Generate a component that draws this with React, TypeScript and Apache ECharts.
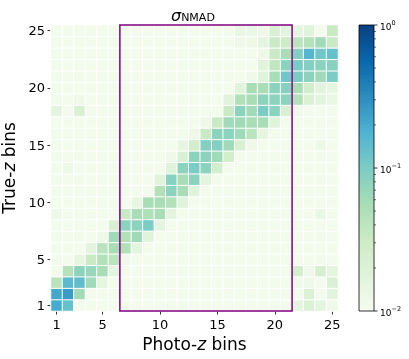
import React, { useEffect, useRef } from "react";
import * as echarts from "echarts";

const photoZBins = ["1","2","3","4","5","6","7","8","9","10","11","12","13","14","15","16","17","18","19","20","21","22","23","24","25"];
const trueZBins = ["1","2","3","4","5","6","7","8","9","10","11","12","13","14","15","16","17","18","19","20","21","22","23","24","25"];
const tickLabels = ["1", "5", "10", "15", "20", "25"];
const B = 0.011;
// rows: true-z bin 1 (bottom) .. 25 (top); columns: photo-z bin 1..25
const sigmaNmad: number[][] = [
  [0.2, 0.13, B, B, B, B, B, B, B, B, B, B, B, B, B, B, B, B, B, B, B, 0.016, 0.021, 0.016, 0.012],
  [0.21, 0.25, 0.06, B, B, B, B, B, B, B, B, B, B, B, B, B, B, B, B, B, B, 0.011, 0.021, 0.011, 0.017],
  [0.042, 0.15, 0.14, 0.062, 0.015, B, B, B, B, B, B, B, B, B, B, B, B, B, B, B, B, 0.012, 0.013, 0.011, 0.021],
  [B, 0.045, 0.08, 0.07, 0.056, 0.016, B, B, B, B, B, B, B, B, B, B, B, B, B, B, B, 0.026, 0.012, 0.024, 0.016],
  [B, B, 0.015, 0.033, 0.048, 0.042, 0.012, B, B, B, B, B, B, B, B, B, B, B, B, B, B, B, B, B, B],
  [B, B, B, 0.016, 0.042, 0.056, 0.048, 0.016, B, B, B, B, B, B, B, B, B, B, B, B, B, B, B, B, B],
  [B, B, B, B, 0.013, 0.062, 0.048, 0.062, 0.018, B, B, B, B, B, B, B, B, B, B, B, B, B, B, B, B],
  [B, B, B, B, B, 0.022, 0.08, 0.08, 0.1, 0.016, B, B, B, B, B, B, B, B, B, B, B, B, B, B, B],
  [0.012, B, B, B, B, B, 0.033, 0.056, 0.05, 0.056, 0.016, B, B, B, B, B, B, B, B, B, B, B, B, 0.014, B],
  [B, B, B, B, B, B, B, 0.015, 0.056, 0.056, 0.048, 0.018, B, B, B, B, B, B, B, B, B, B, B, B, B],
  [B, B, B, B, B, B, B, B, B, 0.048, 0.08, 0.056, 0.018, B, B, B, B, B, B, B, B, B, B, B, B],
  [B, B, B, B, B, B, B, B, B, 0.018, 0.085, 0.056, 0.08, 0.016, B, B, B, B, B, B, B, B, B, B, B],
  [B, 0.013, B, B, B, B, B, B, B, B, 0.018, 0.08, 0.1, 0.08, 0.026, B, B, B, B, B, B, B, B, B, B],
  [B, B, B, B, B, B, B, B, B, B, 0.012, 0.022, 0.08, 0.08, 0.062, 0.026, B, B, B, B, B, B, B, B, B],
  [B, B, B, B, B, B, B, B, B, B, B, 0.015, 0.026, 0.09, 0.09, 0.062, 0.022, 0.012, B, B, B, B, B, 0.013, B],
  [B, B, B, B, B, B, B, B, B, B, B, B, 0.013, 0.033, 0.08, 0.08, 0.062, 0.042, 0.015, B, B, B, B, B, B],
  [B, B, B, B, B, B, B, B, B, B, B, B, B, 0.013, 0.033, 0.062, 0.062, 0.056, 0.056, 0.018, B, B, B, B, B],
  [0.016, B, 0.022, B, B, B, B, B, B, B, B, B, B, B, 0.011, 0.033, 0.08, 0.062, 0.1, 0.08, 0.022, 0.012, B, B, B],
  [B, B, 0.012, B, B, B, B, B, B, B, B, B, B, B, B, 0.018, 0.048, 0.056, 0.08, 0.08, 0.08, 0.048, 0.021, 0.016, 0.014],
  [B, B, B, B, B, B, B, B, B, B, B, B, B, B, B, B, 0.018, 0.056, 0.056, 0.08, 0.085, 0.056, 0.026, 0.017, 0.015],
  [B, B, B, B, B, B, B, B, B, B, B, B, B, B, B, B, B, 0.012, 0.018, 0.056, 0.115, 0.1, 0.08, 0.062, 0.1],
  [B, B, B, B, B, B, B, B, B, B, B, B, B, B, B, B, B, 0.011, 0.018, 0.038, 0.08, 0.1, 0.09, 0.08, 0.085],
  [B, B, B, B, B, B, B, B, B, B, B, B, B, B, B, B, B, B, 0.013, 0.033, 0.056, 0.09, 0.165, 0.115, 0.13],
  [B, B, B, B, B, B, B, B, B, B, B, B, B, B, B, B, 0.012, 0.013, 0.016, 0.033, 0.03, 0.043, 0.045, 0.062, 0.033],
  [B, B, B, B, B, B, B, B, B, B, B, B, B, B, B, B, 0.014, 0.014, 0.012, 0.022, 0.016, 0.016, 0.018, 0.011, 0.033],
];
const highlightPhotoRange = ["7", "21"];
const colorbarMajor = [0.01, 0.1, 1];
const colorbarMajorExp = ["−2", "−1", "0"];
const colorbarMinor = [0.02, 0.03, 0.04, 0.05, 0.06, 0.07, 0.08, 0.09, 0.2, 0.3, 0.4, 0.5, 0.6, 0.7, 0.8, 0.9];
const gnbu = ["#f7fcf0", "#e0f3db", "#ccebc5", "#a8ddb5", "#7bccc4", "#4eb3d3", "#2b8cbe", "#0868ac", "#084081"];

const FONT = "DejaVu Sans";

export default function App() {
  const ref = useRef<HTMLDivElement>(null);
  useEffect(() => {
    const chart = echarts.init(ref.current!, null, { renderer: "svg" });
    const data: number[][] = [];
    sigmaNmad.forEach((row, yi) =>
      row.forEach((v, xi) => data.push([xi, yi, Math.log10(v), v]))
    );
    const showTick = (i: number) => tickLabels.includes(photoZBins[i]);
    const showTickY = (i: number) => tickLabels.includes(trueZBins[i]);
    const grid = { left: 51, top: 25, width: 287, height: 286 };
    chart.setOption({
      animation: false,
      grid: { ...grid, containLabel: false, outerBoundsMode: "none" },
      xAxis: {
        type: "category",
        data: photoZBins,
        name: "{n|Photo-}{i|z}{n| bins}",
        nameLocation: "middle",
        nameGap: 17,
        nameTextStyle: {
          rich: {
            n: { fontSize: 17, fontFamily: FONT, color: "#000" },
            i: { fontSize: 17, fontFamily: FONT, fontStyle: "italic", color: "#000" },
          },
        },
        axisLine: { show: false },
        axisTick: { show: true, alignWithLabel: true, interval: showTick, length: 3.5, lineStyle: { color: "#000", width: 0.8 } },
        axisLabel: { interval: showTick, fontSize: 13, fontFamily: FONT, color: "#000", margin: 7 },
        splitLine: { show: false },
      },
      yAxis: {
        type: "category",
        data: trueZBins,
        name: "{n|True-}{i|z}{n| bins}",
        nameLocation: "middle",
        nameGap: 26,
        nameTextStyle: {
          rich: {
            n: { fontSize: 17, fontFamily: FONT, color: "#000" },
            i: { fontSize: 17, fontFamily: FONT, fontStyle: "italic", color: "#000" },
          },
        },
        axisLine: { show: false },
        axisTick: { show: true, alignWithLabel: true, interval: showTickY, length: 3.5, lineStyle: { color: "#000", width: 0.8 } },
        axisLabel: { interval: showTickY, fontSize: 13, fontFamily: FONT, color: "#000", margin: 6 },
        splitLine: { show: false },
      },
      visualMap: {
        show: false,
        type: "continuous",
        min: -2,
        max: 0,
        dimension: 2,
        inRange: { color: gnbu },
      },
      series: [
        {
          type: "heatmap",
          data,
          itemStyle: { borderColor: "#ffffff", borderWidth: 1 },
          emphasis: { disabled: true },
        },
      ],
    });

    const cx = (c: string) => chart.convertToPixel({ xAxisIndex: 0 }, c) as number;
    const cy = (c: string) => chart.convertToPixel({ yAxisIndex: 0 }, c) as number;
    const bw = cx(photoZBins[1]) - cx(photoZBins[0]);
    const bh = cy(trueZBins[0]) - cy(trueZBins[1]);
    const rx0 = cx(highlightPhotoRange[0]) - bw / 2;
    const rx1 = cx(highlightPhotoRange[1]) + bw / 2;
    const ry0 = cy(trueZBins[trueZBins.length - 1]) - bh / 2;
    const ry1 = cy(trueZBins[0]) + bh / 2;

    const cbX = 359, cbTop = ry0, cbW = 15, cbH = ry1 - ry0;
    const cbYOf = (v: number) => cbTop + cbH - ((Math.log10(v) + 2) / 2) * cbH;

    const graphics: any[] = [
      {
        type: "rect",
        shape: { x: rx0, y: ry0, width: rx1 - rx0, height: ry1 - ry0 },
        style: { fill: "none", stroke: "#800080", lineWidth: 1.5 },
        z: 10,
      },
      {
        type: "rect",
        shape: { x: cbX, y: cbTop, width: cbW, height: cbH },
        style: {
          fill: new echarts.graphic.LinearGradient(0, 1, 0, 0, gnbu.map((c, i) => ({ offset: i / (gnbu.length - 1), color: c }))),
          stroke: "#000",
          lineWidth: 0.8,
        },
      },
      {
        type: "text",
        x: 171,
        y: 15,
        style: {
          text: "{s|σ}{n|NMAD}",
          align: "left",
          verticalAlign: "middle",
          rich: {
            s: { fontSize: 16, fontFamily: FONT, fontStyle: "italic", fill: "#000", verticalAlign: "top", lineHeight: 16 },
            n: { fontSize: 11, fontFamily: FONT, fill: "#000", verticalAlign: "bottom", lineHeight: 12 },
          },
        },
      },
    ];
    colorbarMajor.forEach((v, i) => {
      const y = cbYOf(v);
      graphics.push({
        type: "line",
        shape: { x1: cbX + cbW, y1: y, x2: cbX + cbW + 3.5, y2: y },
        style: { stroke: "#000", lineWidth: 0.8 },
      });
      graphics.push({
        type: "text",
        x: cbX + cbW + 6,
        y: y,
        style: {
          text: `{b|10}{s|${colorbarMajorExp[i]}}`,
          align: "left",
          verticalAlign: "middle",
          rich: {
            b: { fontSize: 9, fontFamily: FONT, fill: "#000", lineHeight: 12, verticalAlign: "bottom" },
            s: { fontSize: 6.5, fontFamily: FONT, fill: "#000", lineHeight: 8, verticalAlign: "top" },
          },
        },
      });
    });
    colorbarMinor.forEach((v) => {
      const y = cbYOf(v);
      graphics.push({
        type: "line",
        shape: { x1: cbX + cbW, y1: y, x2: cbX + cbW + 2, y2: y },
        style: { stroke: "#000", lineWidth: 0.6 },
      });
    });
    chart.setOption({ graphic: graphics });

    return () => chart.dispose();
  }, []);
  return <div ref={ref} style={{ position: "fixed", left: 0, top: 0, width: 409, height: 359 }} />;
}
